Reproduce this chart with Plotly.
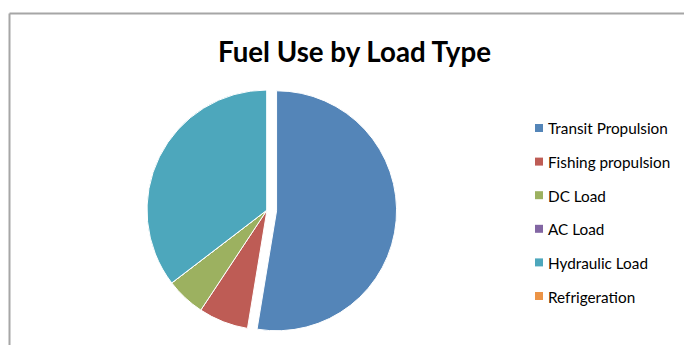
import plotly.graph_objects as go

labels = ["Transit Propulsion", "Fishing propulsion", "DC Load", "AC Load", "Hydraulic Load", "Refrigeration"]
values = [52.6, 6.7, 5.3, 0.0, 35.4, 0.0]
colors = ["#5485B8", "#BE5C55", "#9CB160", "#8266A3", "#4DA7BC", "#EC9446"]
pulls = [0.08, 0, 0, 0, 0, 0]

W, H = 684, 345
fig = go.Figure()
fig.add_trace(go.Pie(
    labels=labels, values=values, sort=False, direction="clockwise", rotation=0,
    marker=dict(colors=colors, line=dict(color="white", width=1)),
    pull=pulls, textinfo="none", hoverinfo="label+percent", showlegend=False,
    domain=dict(x=[137.4 / W, 396.6 / W], y=[1 - 339.6 / H, 1 - 80.4 / H]),
))

shapes = [
    dict(type="line", xref="paper", yref="paper", x0=9.5 / W, x1=1, y0=1 - 13.5 / H, y1=1 - 13.5 / H,
         line=dict(color="#A6A6A6", width=2)),
    dict(type="line", xref="paper", yref="paper", x0=9.5 / W, x1=9.5 / W, y0=0, y1=1 - 13.5 / H,
         line=dict(color="#A6A6A6", width=2)),
]
annotations = []
y0, step = 128, 33.6
for i, (lab, col) in enumerate(zip(labels, colors)):
    yc = y0 + i * step
    shapes.append(dict(type="rect", xref="paper", yref="paper",
                       x0=535 / W, x1=543 / W, y0=1 - (yc + 4) / H, y1=1 - (yc - 4) / H,
                       fillcolor=col, line=dict(width=0)))
    annotations.append(dict(text=lab, xref="paper", yref="paper", x=546 / W, y=1 - (yc + 0.5) / H,
                            xanchor="left", yanchor="middle", showarrow=False,
                            font=dict(family="Lato", size=15.3, color="#000000")))
annotations.append(dict(text="<b>Fuel Use by Load Type</b>", xref="paper", yref="paper",
                        x=354 / W, y=1 - 52 / H, xanchor="center", yanchor="middle", showarrow=False,
                        font=dict(family="Lato", size=27.7, color="#000000")))

fig.update_layout(
    width=W, height=H, margin=dict(l=0, r=0, t=0, b=0),
    paper_bgcolor="white", plot_bgcolor="white",
    shapes=shapes, annotations=annotations,
)
fig.write_html("out.html")
